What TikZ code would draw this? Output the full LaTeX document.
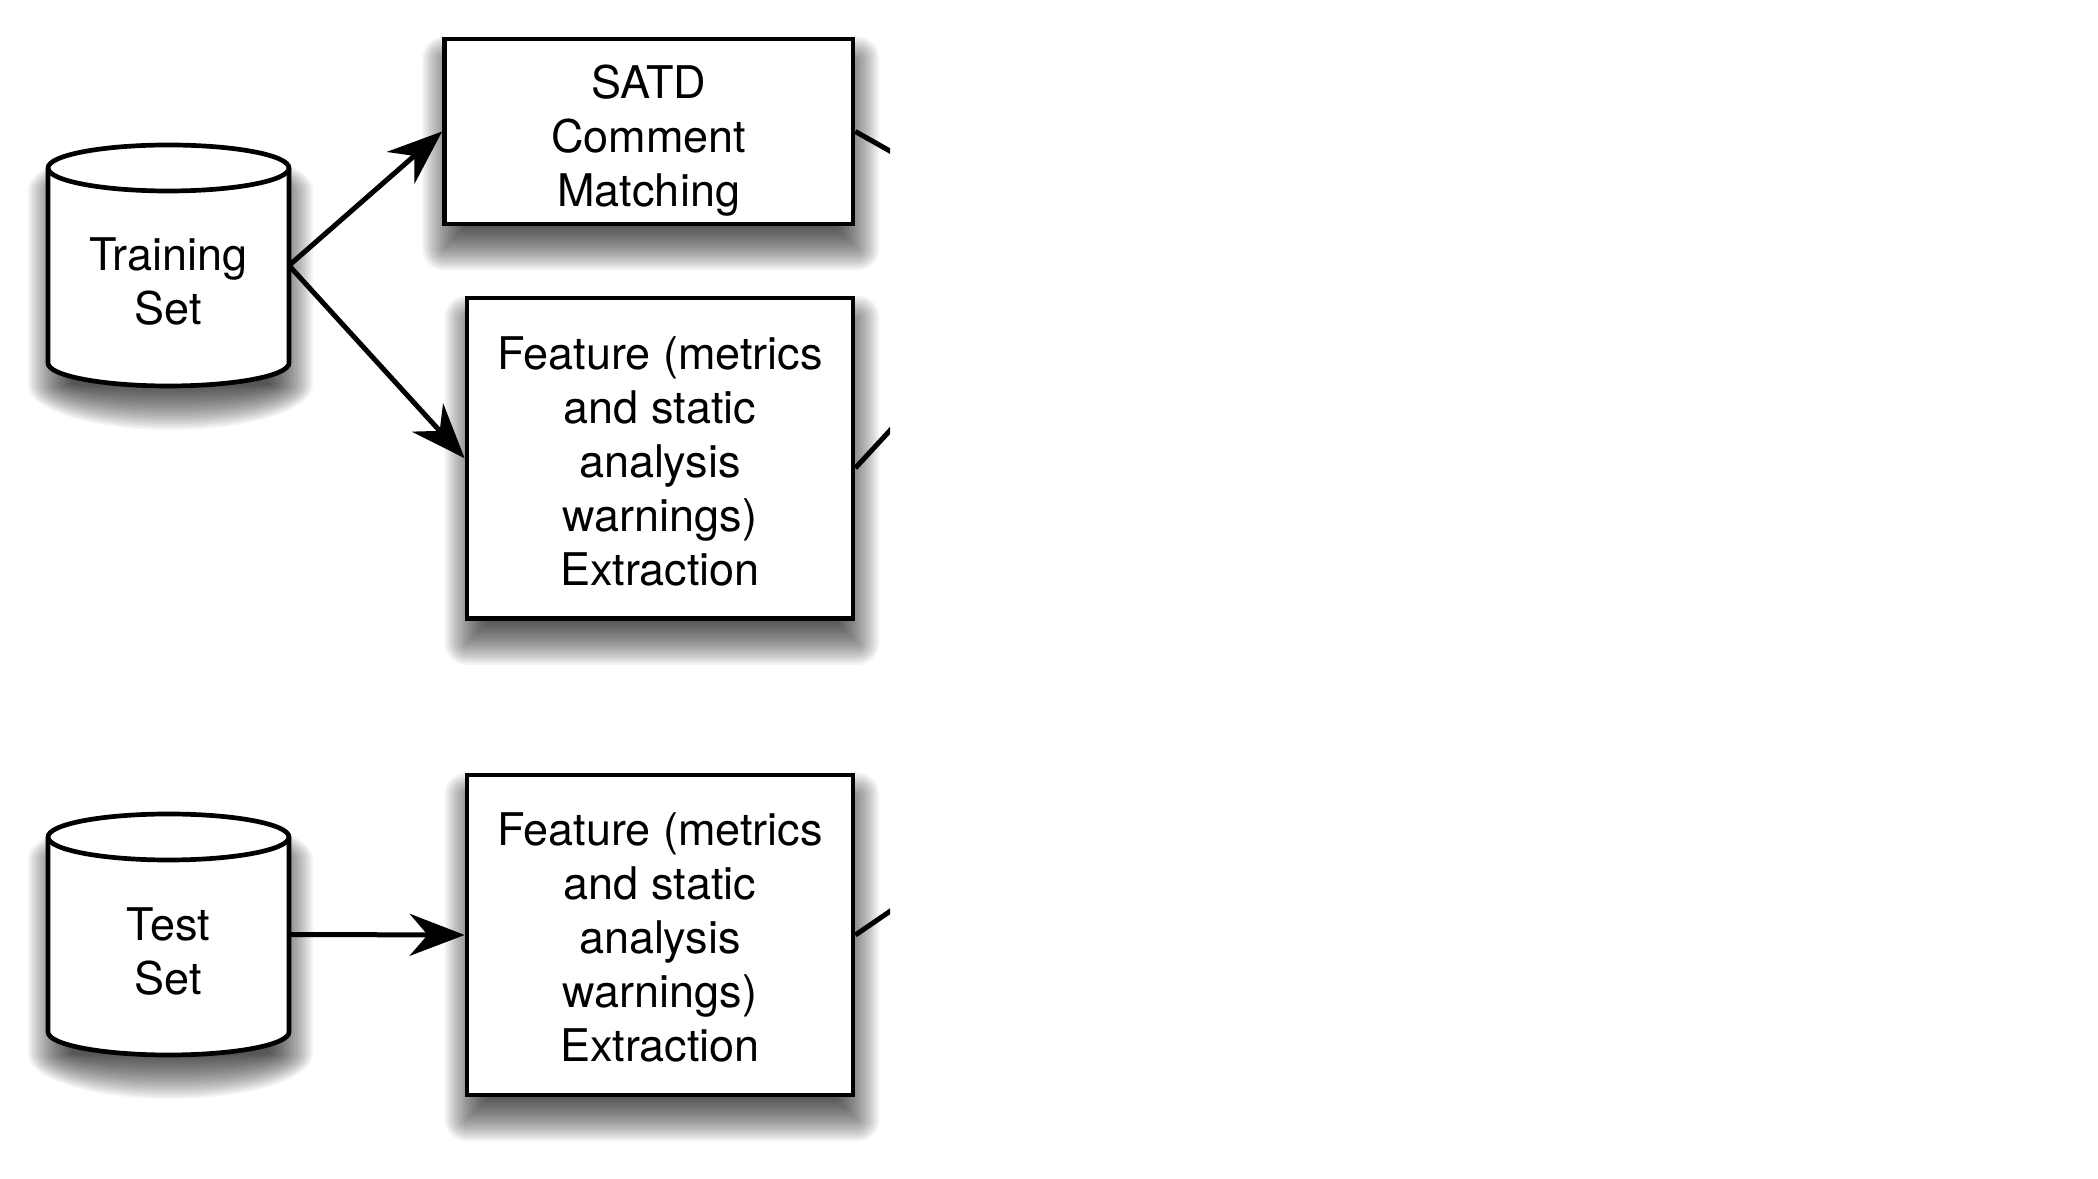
\documentclass[tikz,border=0pt]{standalone}
\usepackage{fontspec}
\setmainfont{TeX Gyre Heros}
\usetikzlibrary{arrows.meta,backgrounds}
\newcommand{\boxshadow}[1]{%
  \foreach \e in {22,20,...,-22}{%
    \pgfmathsetmacro{\rc}{max(\e,0.01)}%
    \fill[black,opacity=0.045,rounded corners=\rc pt]
      ([shift={(-\e pt+2pt,-\e pt-22pt)}]#1.south west) rectangle ([shift={(\e pt+2pt,\e pt-22pt)}]#1.north east);
  }}
\newcommand{\cylshadow}[1]{%
  \foreach \e in {22,20,...,-22}{%
    \pgfmathsetmacro{\ryy}{max(23+\e,1)}%
    \pgfmathsetmacro{\rxx}{120.5+\e}%
    \fill[black,opacity=0.045]
      ([shift={(-\e pt+2pt,-23pt-22pt)}]#1.north west) -- ([shift={(-\e pt+2pt,23pt-22pt)}]#1.south west)
      arc[start angle=180,end angle=360,x radius=\rxx pt,y radius=\ryy pt]
      -- ([shift={(\e pt+2pt,-23pt-22pt)}]#1.north east)
      arc[start angle=0,end angle=180,x radius=\rxx pt,y radius=\ryy pt] -- cycle;
  }}
\begin{document}
\begin{tikzpicture}[x=1pt,y=1pt,
  boxnode/.style={draw=black,fill=white,line width=4.7pt,inner sep=0pt,outer sep=2.35pt},
  anchornode/.style={inner sep=0pt,outer sep=0pt},
  cylpath/.style={draw=black,fill=white,line width=4.7pt},
  txt/.style={font=\fontsize{45}{54}\selectfont,align=center,inner sep=0pt,anchor=north},
  conn/.style={line width=5pt,-{Stealth[length=55pt,width=42pt,inset=18pt]}},
  plainline/.style={line width=5pt}
]
\useasboundingbox (0,0) rectangle (2098,1178);
\begin{scope}
\clip (0,0) rectangle (890,1178);
% Training set cylinder
\node[anchornode,minimum width=241pt,minimum height=241pt] (train) at (168.5,912.5) {};
\path[cylpath] ([yshift=-23pt]train.north west) -- ([yshift=23pt]train.south west)
  arc[start angle=180,end angle=360,x radius=120.5pt,y radius=23pt]
  -- ([yshift=-23pt]train.north east)
  arc[start angle=0,end angle=180,x radius=120.5pt,y radius=23pt] -- cycle;
\draw[line width=4.7pt] ([yshift=-23pt]train.north west) arc[start angle=180,end angle=360,x radius=120.5pt,y radius=23pt];
\node[txt] (trainT) at (168.5,940) {Training\\Set};
% Test set cylinder
\node[anchornode,minimum width=241pt,minimum height=241pt] (test) at (168.5,243.5) {};
\path[cylpath] ([yshift=-23pt]test.north west) -- ([yshift=23pt]test.south west)
  arc[start angle=180,end angle=360,x radius=120.5pt,y radius=23pt]
  -- ([yshift=-23pt]test.north east)
  arc[start angle=0,end angle=180,x radius=120.5pt,y radius=23pt] -- cycle;
\draw[line width=4.7pt] ([yshift=-23pt]test.north west) arc[start angle=180,end angle=360,x radius=120.5pt,y radius=23pt];
\node[txt] (testT) at (168.5,271) {Test\\Set};
% Boxes
\node[boxnode,minimum width=408.5pt,minimum height=185pt] (satd) at (648.75,1046.5) {};
\node[txt] (satdT) at ([yshift=-28pt]satd.north) {SATD\\Comment\\Matching};
\node[boxnode,minimum width=386pt,minimum height=320.5pt] (feat1) at (660,719.75) {};
\node[txt] (feat1T) at ([yshift=-40.5pt]feat1.north) {Feature (metrics\\and static\\analysis\\warnings)\\Extraction};
\node[boxnode,minimum width=386pt,minimum height=320pt] (feat2) at (660,243) {};
\node[txt] (feat2T) at ([yshift=-40pt]feat2.north) {Feature (metrics\\and static\\analysis\\warnings)\\Extraction};
% Connectors
\draw[conn] (train.east) -- (satd.west);
\draw[conn] (train.east) -- (feat1.west);
\draw[conn] (test.east) -- (feat2.west);
\coordinate (o1) at (900,1021.3);
\coordinate (o2) at (900,758.3);
\coordinate (o3) at (900,273.5);
\draw[plainline] (satd.east) -- (o1);
\draw[plainline] ([yshift=-9.75pt]feat1.east) -- (o2);
\draw[plainline] (feat2.east) -- (o3);
% Shadows
\begin{pgfonlayer}{background}
\fill[white] (0,0) rectangle (2098,1178);
\boxshadow{satd}
\boxshadow{feat1}
\boxshadow{feat2}
\cylshadow{train}
\cylshadow{test}
\end{pgfonlayer}
\end{scope}
\end{tikzpicture}
\end{document}
